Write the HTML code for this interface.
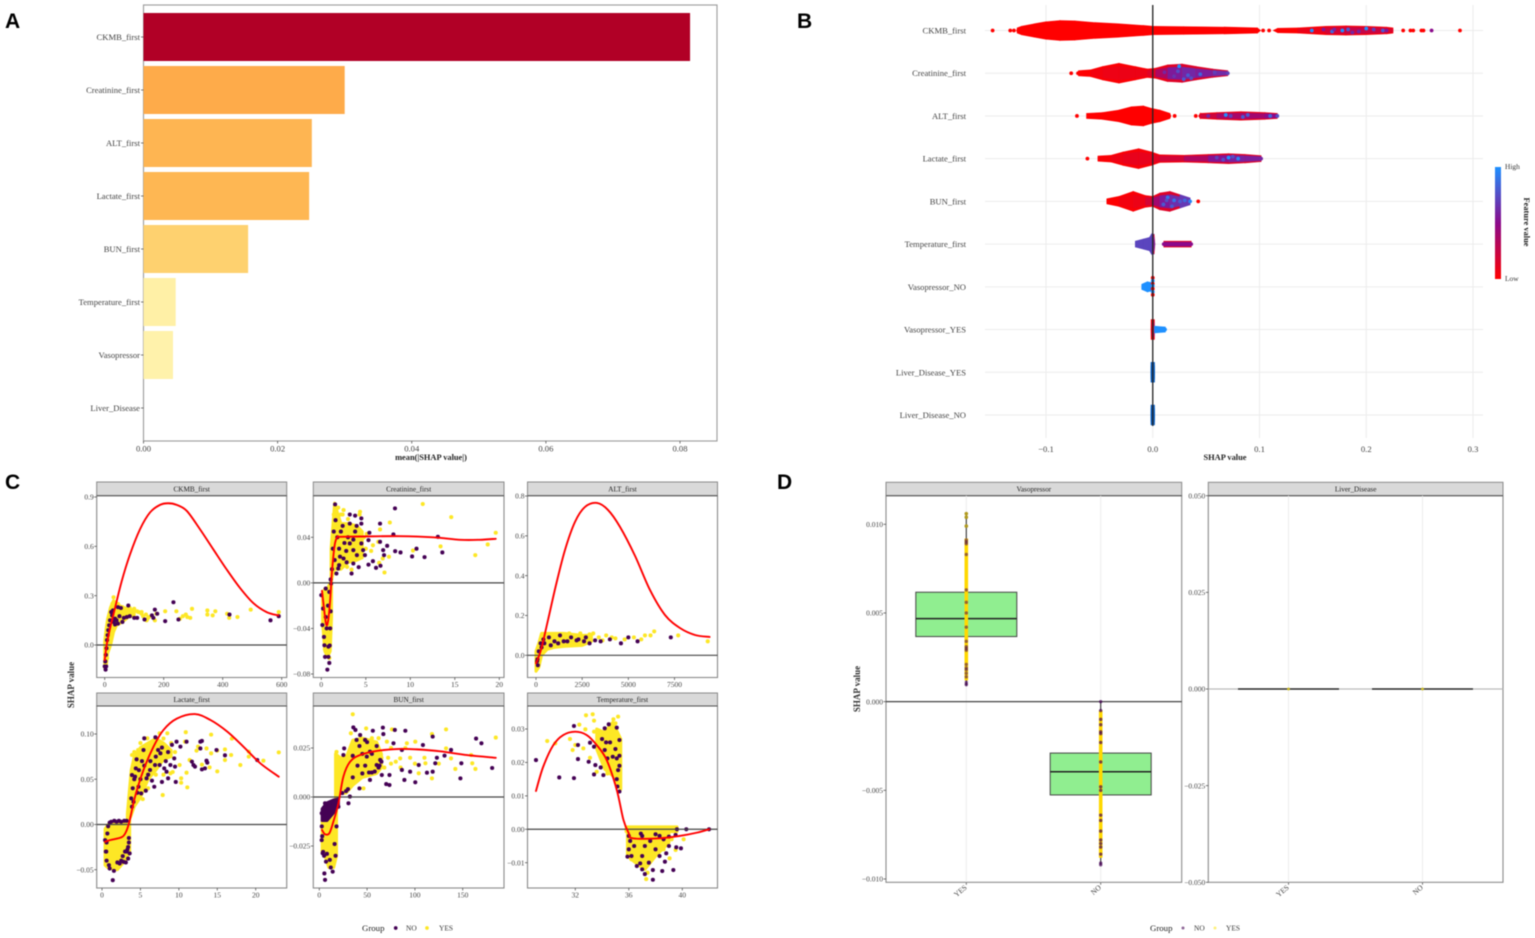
<!DOCTYPE html>
<html lang="en">
<head>
<meta charset="utf-8">
<title>SHAP feature analysis panels</title>
<style>
html,body{margin:0;padding:0;background:#fff;}
svg{display:block;filter:blur(.45px);}
text{font-family:"Liberation Serif",serif;}
.letter{font-family:"Liberation Sans",sans-serif;font-weight:700;font-size:21px;fill:#000;}
.t86{font-size:8.6px;fill:#444;}
.t75{font-size:7.5px;fill:#444;}
.strip{font-size:7.2px;fill:#222;}
.title{font-size:8.4px;font-weight:700;fill:#222;}
.ytitle{font-size:9px;font-weight:700;fill:#333;}
.leg{font-size:7.4px;fill:#333;}
.legt{font-size:8.8px;fill:#222;}
</style>
</head>
<body>
<svg id="fig" width="1535" height="938" viewBox="0 0 1535 938" xmlns="http://www.w3.org/2000/svg">
  <defs>
    <linearGradient id="featureGrad" x1="0" y1="1" x2="0" y2="0">
      <stop offset="0" stop-color="#ff0000"/>
      <stop offset="0.5" stop-color="#8b0a8b"/>
      <stop offset="1" stop-color="#1e90ff"/>
    </linearGradient>
  </defs>
  <rect width="1535" height="938" fill="#fff"/>
  <text class="letter" x="5" y="28">A</text>
  <text class="letter" x="797" y="28">B</text>
  <text class="letter" x="5" y="489">C</text>
  <text class="letter" x="777" y="489">D</text>
  <g id="panelA"></g>
  <g id="panelB"></g>
  <g id="panelC"></g>
  <g id="panelD"></g>
</svg>
<script>
/* ---------- Panel A data ---------- */
const importanceFeatures = ["CKMB_first","Creatinine_first","ALT_first","Lactate_first","BUN_first","Temperature_first","Vasopressor","Liver_Disease"];
const importanceValues = [0.0815,0.0300,0.0251,0.0247,0.0156,0.0048,0.0044,0];
const importanceTicks = [0,0.02,0.04,0.06,0.08];

/* ---------- Panel B data ---------- */
const swarmFeatures = ["CKMB_first","Creatinine_first","ALT_first","Lactate_first","BUN_first","Temperature_first","Vasopressor_NO","Vasopressor_YES","Liver_Disease_YES","Liver_Disease_NO"];
const swarmTicks = [-0.1,0,0.1,0.2,0.3];

const ckmbSwarmShap = [-0.127,-0.123,-0.111,-0.1,-0.087,-0.073,-0.054,-0.032,-0.009,0,0.029,0.067,0.098,0.101,0.113,0.117,0.136,0.162,0.181,0.2,0.219,0.225];
const ckmbSwarmDensity = [1,3,6,8.5,10,9.5,7.5,6,4,3,2.5,2,1,0,0,0.5,1,3,3.5,3,2,1];
const ckmbSwarmTone = [0,0,0,0,0,0,0,0,0,0,0,0,0,0,0,0,0.02,0.15,0.25,0.25,0.2,0.1];
const ckmbDots = [[-0.15,0,0],[-0.1335,0,0],[-0.13,0,0],[-0.126,0,0],[0.1034,0,0],[0.109,0,0],[0.128,0,0],[0.2346,0,0],[0.2414,0,0],[0.244,0,0],[0.2517,0,0],[0.2536,0,0],[0.2612,0,0.5],[0.2878,0,0],[0.149,0,1],[0.168,1,0.85],[0.1776,0,1],[0.183,-1,0.8],[0.2,-2,1],[0.2156,0,0.8],[0.16,-1,0.55],[0.187,2,0.6],[0.219,0,0.55],[0.17,-1,0.6],[0.193,1,0.6],[0.207,-1,0.7]];

const creatSwarmShap = [-0.0696,-0.058,-0.047,-0.0316,-0.0163,-0.005,0.0027,0.014,0.0274,0.0407,0.056,0.0703];
const creatSwarmDensity = [1,2,6,10,6,3,4,8,9,6,3,1];
const creatSwarmTone = [0,0.03,0.07,0.08,0.08,0.08,0.2,0.5,0.62,0.6,0.55,0.7];
const creatDots = [[-0.0764,0,0],[-0.07,0,0],[0.0247,-7,1],[0.0236,-2,0.75],[0.033,2,0.8],[0.0445,1,0.85],[0.029,6,0.8],[0.011,-1,0.6],[0.0703,0,0.7],[0.058,-1,0.7],[0.036,5,0.75],[0.02,3,0.65]];

const altSwarmShap = [-0.062,-0.047,-0.0316,-0.02,-0.0087,-0.001,0.0065,0.016,0.017,0.043,0.0445,0.06,0.0825,0.105,0.1167];
const altSwarmDensity = [1,2,5,9,10,7,5,1,0,0,1,2,3,2,1];
const altSwarmTone = [0,0,0,0,0,0,0,0,0,0,0.1,0.35,0.4,0.4,0.6];
const altDots = [[-0.071,0,0],[0.0205,0,0],[0.0403,0,0],[0.0684,-1,1],[0.0844,1,0.8],[0.089,-1,0.8],[0.1167,0,0.75],[0.052,0,0.6],[0.073,0,0.7],[0.11,0,0.85]];

const lactSwarmShap = [-0.0513,-0.039,-0.0278,-0.0133,-0.0011,0.0065,0.0293,0.052,0.071,0.0863,0.1015];
const lactSwarmDensity = [1,2,6,10,6,2.5,2,3,4,3,1.5];
const lactSwarmTone = [0,0.05,0.1,0.1,0.1,0.15,0.25,0.45,0.62,0.55,0.6];
const lactDots = [[-0.0612,0,0],[0.071,-1,1],[0.08,0,0.95],[0.1015,0,0.6],[0.06,-1,0.7],[0.066,1,0.75],[0.075,-2,0.75]];

const bunSwarmShap = [-0.043,-0.0316,-0.0183,-0.0068,0,0.0065,0.016,0.0255,0.035];
const bunSwarmDensity = [1,4,10,5,4,8,10,6,2];
const bunSwarmTone = [0,0.03,0.08,0.08,0.3,0.5,0.62,0.65,0.7];
const bunDots = [[0.0426,0,0],[0.014,-4,0.9],[0.01,3,0.8],[0.018,5,0.8],[0.035,0,0.95],[0.0255,0,0.8],[0.02,-1,0.9],[0.03,-1,0.85],[0.013,-1,0.75]];

const tempSwarmShap = [-0.0163,-0.0087,-0.003,-0.0012,0.0012,0.002,0.0103,0.0104,0.036,0.0361];
const tempSwarmDensity = [1.5,4,6,10,10,0,0,1.5,1.5,0];
const tempSwarmTone = [0.72,0.72,0.72,0.72,0.72,0.5,0.5,0.5,0.5,0.5];
const tempDots = [[0.0103,0,0.5],[0.036,0,0.5]];

const vasoNoSwarmShap = [-0.0103,-0.005,-0.0011,0];
const vasoNoSwarmDensity = [1,4,3,0];
const vasoNoSwarmTone = [1,1,1,1];
const vasoNoDots = [[0,-9,0],[0,-6,1],[0,-3,0],[0,-1,1],[0,2,0],[0,5,1],[0,8,0]];

const vasoYesSwarmShap = [-0.0015,-0.0014,0.0014,0.0015,0.0118];
const vasoYesSwarmDensity = [0,10,10,2,1];
const vasoYesSwarmTone = [0.1,0.1,0.1,1,1];
const vasoYesDots = [[0.004,-1,1],[0.009,0,1],[0.0115,0,1]];

const liverYesSwarmShap = [-0.0017,-0.0015,0.0015,0.0017];
const liverYesSwarmDensity = [0,10,10,0];
const liverYesSwarmTone = [1.25,1.25,1.25,1.25];
const liverNoSwarmShap = [-0.0017,-0.0015,0.0015,0.0017];
const liverNoSwarmDensity = [0,10,10,0];
const liverNoSwarmTone = [1.25,1.25,1.25,1.25];

/* ---------- Panel C data ---------- */
const ckmbXTicks = [0,200,400,600];
const ckmbYTicks = [0,0.3,0.6,0.9];
const ckmbCurve = [[0,-0.092],[6.7,0],[18,0.10],[35,0.225],[57.6,0.388],[85.8,0.551],[119.7,0.704],[153.6,0.806],[187.5,0.852],[215.7,0.862],[244,0.852],[278,0.816],[323,0.704],[368,0.582],[413.6,0.459],[458.6,0.347],[503.7,0.255],[549,0.2],[588.5,0.18]];
const ckmbDense = [[0,-0.14,0.02],[5,-0.13,0.1],[10,-0.05,0.16],[20,0,0.23],[30,0.08,0.27],[40,0.12,0.25],[60,0.14,0.23],[80,0.17,0.22],[100,0.18,0.21]];
const ckmbNoPts = [[35,0.16],[45,0.23],[55,0.225],[80,0.24],[75,0.17],[85,0.175],[100,0.165],[110,0.165],[135,0.155],[160,0.18],[165,0.165],[170,0.215],[178,0.19],[205,0.145],[233,0.26],[250,0.155],[423,0.185],[562,0.15],[590,0.175],[3,-0.15],[5,-0.13],[0,-0.13],[10,0.06],[15,0.12],[22,0.2],[35,0.125],[45,0.13],[60,0.14],[2,-0.1],[4,-0.06],[6,-0.02],[8,0.03],[12,0.09],[18,0.15],[25,0.18],[30,0.14],[40,0.15],[50,0.175],[65,0.165],[28,0.21]];
const ckmbYesPts = [[30,0.29],[70,0.2],[90,0.21],[100,0.22],[115,0.2],[125,0.2],[140,0.185],[142,0.15],[145,0.16],[170,0.15],[175,0.19],[205,0.205],[243,0.205],[255,0.16],[265,0.175],[275,0.185],[280,0.17],[290,0.165],[296,0.22],[348,0.21],[348,0.185],[366,0.18],[375,0.205],[415,0.19],[422,0.165],[450,0.17],[495,0.215],[590,0.2],[3,-0.12],[8,-0.08],[12,0.02],[18,0.1],[26,0.25],[35,0.26],[45,0.25],[60,0.23],[85,0.225],[110,0.205],[125,0.19],[130,0.175],[150,0.17]];

const creatXTicks = [0,5,10,15,20];
const creatYTicks = [-0.08,-0.04,0,0.04];
const creatCurve = [[0.08,-0.007],[0.22,-0.0167],[0.53,-0.0358],[0.75,-0.034],[0.98,-0.0167],[1.2,0.0097],[1.5,0.033],[1.8,0.0404],[2.1,0.0404],[4.35,0.0407],[8.84,0.041],[12.6,0.04],[15.6,0.0378],[17.8,0.0378],[19.6,0.0387]];
const creatDense = [[1.1,0,0.03],[1.3,0.008,0.05],[1.5,0.012,0.07],[1.8,0.012,0.062],[2.2,0.012,0.052],[3,0.018,0.052],[4,0.02,0.05],[4.6,0.022,0.045]];
const creatDenseLow = [[0.15,-0.035,-0.01],[0.4,-0.06,-0.005],[0.7,-0.065,-0.005],[1,-0.06,0],[1.15,-0.03,0]];
const creatNoPts = [[8.28,0.0654],[13.1,0.0404],[8.1,0.0425],[6.6,0.052],[6.6,0.036],[7.4,0.0325],[6.95,0.0287],[7.05,0.0243],[6.65,0.015],[6.15,0.0132],[8.3,0.0278],[8.9,0.0267],[10.2,0.0232],[10.7,0.03],[11.6,0.0226],[13.6,0.0267],[3.4,0.0082],[1.7,0.0082],[1.9,0.0126],[3.2,0.06],[3.8,0.059],[4.5,0.0566],[4.5,0.052],[3.97,0.05],[3.2,0.052],[3.8,0.045],[5.4,0.044],[5.3,0.0375],[3.2,0.0346],[4.5,0.0346],[3.6,0.0287],[4.7,0.0287],[4,0.0243],[4.9,0.0243],[2.85,0.018],[3.6,0.017],[4.2,0.0138],[5.3,0.016],[5.8,0.019],[2.5,0.0214],[2,0.0155],[0.68,-0.0762],[0.9,-0.0703],[0.42,-0.065],[0.8,-0.065],[0.35,-0.0548],[0.8,-0.056],[0.3,-0.0475],[0.12,-0.037],[0.2,-0.0226],[0,-0.0108],[0.5,-0.005],[0.9,-0.008],[1.1,-0.0006],[1.55,0.0689],[2.1,0.023],[1.3,0.03],[1.4,0.045],[1.6,0.055],[1.8,0.04],[1.5,0.02],[2,0.03],[2.2,0.045],[2.6,0.035],[2.8,0.028],[3,0.04],[2.4,0.05],[3.6,0.038],[1.2,0.012],[1.05,0.003],[0.6,-0.04],[0.5,-0.03],[0.75,-0.02],[1,-0.04],[0.95,-0.055],[1.05,-0.025]];
const creatYesPts = [[11.4,0.0692],[14.6,0.0577],[19.6,0.044],[18.7,0.0337],[17.3,0.0243],[13.4,0.032],[10.3,0.0284],[7.7,0.053],[6.6,0.0469],[6.4,0.036],[7.1,0.0091],[6.5,0.0176],[7.6,0.0229],[6.9,0.0214],[3.4,0.0117],[2.5,0.0639],[2.4,0.06],[4.35,0.0624],[5.8,0.033],[5.1,0.043],[4.3,0.06],[3.2,0.045],[5.6,0.028],[2.9,0.014],[1.6,0.062],[1.4,0.06],[1.9,0.066],[2.2,0.06],[3,0.056],[3.6,0.05],[4.2,0.047],[4.8,0.04],[3.2,0.025],[2.6,0.018],[4.4,0.024],[5,0.03],[3.8,0.02],[0.3,-0.03],[0.9,-0.066],[0.4,-0.058]];

const altXTicks = [0,2500,5000,7500];
const altYTicks = [0,0.2,0.4,0.6,0.8];
const altCurve = [[0,-0.04],[270,0.027],[650,0.177],[1083,0.353],[1570,0.529],[2112,0.67],[2653,0.745],[3303,0.765],[3898,0.73],[4548,0.645],[5360,0.5],[6172,0.328],[6984,0.2025],[7796,0.137],[8609,0.102],[9400,0.092]];
const altDense = [[0,-0.08,0.02],[150,-0.06,0.06],[300,0,0.11],[600,0.03,0.11],[1000,0.04,0.11],[1500,0.045,0.11],[2500,0.05,0.1],[3000,0.07,0.1]];
const altNoPts = [[4000,0.08],[4600,0.06],[5000,0.09],[5500,0.07],[7300,0.09],[1200,0.06],[1700,0.07],[2200,0.075],[2700,0.09],[3200,0.075],[300,0.04],[100,-0.05],[60,-0.03],[800,0.05],[3500,0.07],[2900,0.06],[400,0.08],[700,0.09],[1000,0.07],[1300,0.1],[1500,0.07],[1900,0.09],[2300,0.08],[2600,0.07],[150,0.02],[80,-0.02],[250,0.06],[450,0.06]];
const altYesPts = [[6400,0.12],[5900,0.1],[6200,0.1],[7700,0.1],[9300,0.07],[3400,0.09],[3800,0.1],[4300,0.085],[4800,0.08],[5300,0.09],[5700,0.08],[3100,0.11],[1800,0.11],[2400,0.11],[2900,0.105],[3600,0.075],[4100,0.09]];

const lactXTicks = [0,5,10,15,20];
const lactYTicks = [-0.05,0,0.05,0.1];
const lactCurve = [[0.39,-0.0192],[1.04,-0.0173],[2.57,-0.014],[3.13,-0.008],[3.56,0.003],[4.3,0.0306],[5.39,0.06],[6.7,0.086],[8,0.1045],[9.73,0.117],[12.1,0.122],[14.1,0.1155],[16.3,0.1026],[18.4,0.086],[20.6,0.0676],[23,0.0528]];
const lactDense = [[0.4,-0.045,-0.005],[0.8,-0.048,0],[2,-0.05,0.003],[3,-0.04,0.003],[3.6,-0.03,0.005]];
const lactDenseHigh = [[3.3,0,0.012],[3.8,0.01,0.06],[4.2,0.02,0.075],[5,0.03,0.085],[6,0.05,0.09],[7,0.06,0.095],[8,0.072,0.09],[9,0.075,0.082]];
const lactNoPts = [[5.5,0.0952],[6.95,0.0963],[5.4,0.0823],[7.3,0.0823],[7.6,0.0786],[8.6,0.08],[9.7,0.0915],[11,0.0915],[10.2,0.086],[9.1,0.088],[9.4,0.073],[8.9,0.0657],[9.5,0.0639],[8.4,0.0583],[9.6,0.047],[8.6,0.051],[7.8,0.047],[6.8,0.0417],[6.5,0.0484],[5.7,0.0373],[5.1,0.0343],[4.75,0.0417],[5.8,0.051],[6.25,0.0602],[6.9,0.0657],[7.5,0.0657],[8.1,0.062],[12.8,0.0915],[13,0.0923],[12.8,0.084],[13.6,0.0705],[13.7,0.0683],[13.4,0.062],[13,0.0609],[12.1,0.0639],[11.9,0.0657],[11.7,0.0694],[14.9,0.0823],[16,0.0764],[20.2,0.0712],[1.4,-0.0616],[1.55,-0.0513],[1,-0.0487],[2.3,-0.0432],[2.8,-0.0413],[3.4,-0.0377],[3.6,-0.032],[0.4,-0.0173],[3.9,0.0196],[3.8,0.0288],[4.3,0.0528],[3.9,0.0546],[1,0.002],[1.6,0.004],[2.2,0.004],[2.9,0.004],[3.5,-0.02],[3.2,-0.03],[0.5,-0.03],[4.8,0.06],[5.2,0.07],[0.6,-0.02],[0.55,-0.03],[0.6,-0.04],[0.9,-0.045],[2,-0.042],[2.5,-0.04],[2.7,-0.035],[3,-0.03],[3.3,-0.028],[3.1,-0.042],[3.4,-0.025],[3.5,-0.015],[1.2,0.003],[1.9,0.003],[2.5,0.003],[3.2,0.004],[0.8,-0.002],[0.7,-0.01],[4,0.04],[4.2,0.05],[4.4,0.062],[4.6,0.035],[5,0.05],[5.5,0.065],[6,0.055],[6.3,0.07],[7,0.075],[7.8,0.085],[8.3,0.07],[4.1,0.025],[4.5,0.072]];
const lactYesPts = [[10.9,0.102],[14.2,0.0993],[16.9,0.0949],[10.8,0.0915],[12.5,0.086],[13.6,0.084],[12.3,0.0816],[14.2,0.0786],[15,0.0816],[16,0.083],[16,0.0712],[16.8,0.0768],[19.1,0.0805],[19.1,0.075],[18,0.0657],[21,0.0705],[23,0.0797],[15,0.0587],[14,0.0631],[13,0.0661],[11.4,0.0712],[11,0.0572],[11.1,0.041],[10.3,0.051],[10.3,0.0461],[7.9,0.0325],[5.3,0.028],[3.9,0.0768],[4.7,0.0823],[5.9,0.0952],[7.5,0.1008],[8.5,0.1008],[10.1,0.0657],[8.9,0.0565],[9.5,0.08],[9,0.09],[8,0.095],[6.5,0.09],[5,0.09],[4.2,0.08],[6,0.04],[7,0.055],[8,0.055],[9.2,0.058]];

const bunXTicks = [0,50,100,150];
const bunYTicks = [-0.025,0,0.025];
const bunCurve = [[2.8,-0.0168],[6,-0.019],[10.5,-0.0185],[14.7,-0.0126],[20,-0.0032],[25.2,0.0104],[32.2,0.018],[42.7,0.0214],[60,0.0235],[84.6,0.0245],[102,0.0243],[126.6,0.0233],[154.6,0.0214],[184.6,0.02]];
const bunDense = [[3,-0.028,-0.012],[6,-0.03,-0.012],[10,-0.036,-0.012],[15,-0.036,-0.008],[18,-0.03,0]];
const bunDenseHigh = [[17,-0.002,0.022],[22,0.002,0.02],[28,0.002,0.02],[35,0.006,0.029],[45,0.01,0.03],[60,0.012,0.028],[65,0.015,0.022]];
const bunDenseNo = [[3,-0.012,-0.006],[8,-0.012,-0.003],[15,-0.008,-0.0015],[20,-0.004,-0.001]];
const bunNoPts = [[164,0.0298],[169.6,0.0274],[147.6,0.0095],[148.6,0.0172],[180.8,0.0148],[137.8,0.024],[131,0.0211],[123,0.02],[121.3,0.0172],[118.6,0.0129],[118.6,0.0308],[108.4,0.0265],[112.6,0.0124],[100.4,0.0075],[89,0.0087],[90,0.0338],[79,0.0342],[66.5,0.0354],[67,0.0321],[56,0.0338],[35.6,0.0355],[37.8,0.0342],[65.4,0.0112],[73.4,0.0112],[70,0.0066],[73.4,0.0061],[42,0.0044],[53,0.0087],[86.4,0.0138],[95,0.0129],[104,0.0163],[77.6,0.0274],[86.4,0.024],[60,0.0163],[63.7,0.0189],[49.7,0.0206],[53,0.0231],[42.7,0.0316],[39,0.0291],[47.9,0.0291],[26,0.0248],[25.2,0.0214],[32,0.0002],[30.5,-0.0032],[6,-0.0423],[5.3,-0.039],[14,-0.0381],[7,-0.033],[11,-0.0321],[3.5,-0.0287],[2.5,-0.022],[6,-0.0032],[11,-0.0041],[14.7,-0.0032],[4.5,-0.0075],[2.5,-0.0083],[45,0.012],[52,0.0125],[58,0.013],[62,0.015],[65,0.018],[63,0.016],[55,0.0125],[28,0.003],[3,-0.02],[2.6,-0.015],[4,-0.028],[5,-0.03],[8,-0.029],[12,-0.036],[17,-0.03],[16,-0.024],[18,-0.015],[20,-0.005],[24,0.002],[30,0.004],[35,0.01],[40,0.016],[45,0.022],[50,0.028],[55,0.022],[60,0.026],[42,0.026],[35,0.021],[48,0.016]];
const bunYesPts = [[35,0.0422],[49,0.035],[76,0.0345],[117.8,0.0321],[132.6,0.0345],[184.6,0.0303],[132.6,0.0248],[137.8,0.0197],[142.3,0.0143],[163.3,0.0143],[160,0.0172],[158.8,0.0214],[117.8,0.0095],[100.4,0.0282],[46.2,0.0044],[18,0.023],[33,0.0325],[91.6,0.0274],[70.7,0.0282],[84.6,0.0197],[104,0.0121],[111,0.0172],[72,0.02],[80,0.018],[95,0.02],[68,0.015],[55,0.03],[65,0.02],[75,0.017],[85,0.015],[90,0.025],[100,0.017],[110,0.02],[125,0.017],[75,0.025],[62,0.03]];

const tempXTicks = [32,36,40];
const tempYTicks = [-0.01,0,0.01,0.02,0.03];
const tempCurve = [[29.06,0.01146],[29.6,0.0187],[30.36,0.0252],[31.1,0.0282],[32,0.0292],[32.85,0.0282],[33.6,0.0252],[34.35,0.0207],[35.1,0.0118],[35.6,0.0028],[36,-0.0012],[36.3,-0.0027],[38.3,-0.0027],[39.8,-0.002],[41.1,-0.001],[42,0]];
const tempDense = [[33.6,0.024,0.03],[34.2,0.018,0.029],[34.8,0.016,0.032],[35.4,0.012,0.027]];
const tempDenseLow = [[35.9,-0.008,-0.001],[36.5,-0.01,-0.001],[37.2,-0.012,-0.001],[38,-0.008,-0.001],[39,-0.004,-0.001]];
const tempDenseZero = [[35.8,-0.0007,0.0007],[39.6,-0.0007,0.0007]];
const tempNoPts = [[29.06,0.0207],[30.8,0.0155],[31.9,0.0153],[31.9,0.0309],[32.2,0.021],[32.2,0.0252],[33,0.0202],[33.4,0.0164],[33.5,0.0192],[33.9,0.0185],[34.1,0.0162],[34.2,0.0302],[34.5,0.0314],[35.1,0.0304],[33.1,0.0259],[33.4,0.0247],[34.2,0.0237],[34.4,0.0212],[34.8,0.0217],[35.1,0.0212],[35.3,0.0267],[35.2,0.0177],[35.15,0.0128],[35.3,0.0113],[39.6,0],[40.3,0],[42,0],[37.8,-0.0151],[38.5,-0.0125],[39.33,-0.0122],[39.9,-0.0057],[39.55,-0.0054],[37.2,-0.0134],[36.85,-0.0102],[35.9,-0.0082],[38.7,-0.0097],[37.8,-0.0122],[38.8,-0.0072],[39,-0.0022],[39.5,-0.0017],[38,-0.0015],[38.3,-0.002],[38.6,-0.003],[36.4,-0.005],[37,-0.008],[37.6,-0.0035],[36.1,-0.0035],[36.9,-0.0013],[34,0.027],[34.6,0.026],[35,0.024],[35.3,0.022],[35.3,0.019],[35.1,0.015],[34.3,0.026],[36,-0.006],[36.2,-0.008],[36.6,-0.011],[37,-0.012],[37.5,-0.01],[37.2,-0.005],[38,-0.006],[38.3,-0.008],[36,-0.002],[37,-0.002],[39,-0.005]];
const tempYesPts = [[29.9,0.0264],[30.5,0.0257],[31.6,0.027],[31.8,0.0237],[32,0.0252],[32.3,0.0313],[32.8,0.0341],[33.3,0.0344],[33.4,0.0325],[32.75,0.0299],[32.6,0.0242],[33.1,0.0214],[33.6,0.0172],[34.4,0.0167],[34.85,0.0329],[35.2,0.0337],[35,0.0317],[35.1,0.0287],[33.4,0.0292],[37.3,-0.0149],[39.05,-0.0087],[39.5,-0.0062],[40.1,-0.003],[37.8,-0.008],[38.2,-0.005],[38.6,-0.006],[37.4,-0.013],[36.2,-0.009],[39.2,-0.003]];

/* ---------- Panel D data ---------- */
const boxCategories = ["YES","NO"];
const vasoYTicks = [-0.01,-0.005,0,0.005,0.01];
const liverYTicks = [-0.05,-0.025,0,0.025,0.05];
const vasoQ1 = [0.00367,-0.00526];
const vasoMedian = [0.00468,-0.00395];
const vasoQ3 = [0.00617,-0.0029];
const vasoMin = [0.0009,-0.0092];
const vasoMax = [0.0106,0];
const liverQ1 = [0,0];
const liverMedian = [0,0];
const liverQ3 = [0,0];
const vasoDenseYesLow = [0.0012,-0.0088];
const vasoDenseYesHigh = [0.0092,-0.0005];
const vasoYesGroupNo = [0.00095,0.001,0.0011,0.0014,0.0016,0.0018,0.0019,0.0021,0.0029,0.003,0.0031,0.0034,0.0042,0.005,0.0056,0.0063,0.0083,0.0089,0.009,0.0091];
const vasoYesGroupMixed = [0.0099,0.0104,0.0106];
const vasoNoGroupNo = [0,-0.0005,-0.001,-0.0013,-0.0017,-0.0018,-0.0023,-0.0034,-0.0048,-0.005,-0.0064,-0.0067,-0.0073,-0.0078,-0.008,-0.0082,-0.0086,-0.0091,-0.0092];
const legendGroups = ["NO","YES"];

/* ---------- helpers ---------- */
const NS = "http://www.w3.org/2000/svg";
const PURPLE = "#440154", YELLOW = "#fde725";
function make(tag, parent, geom) {
  const el = document.createElementNS(NS, tag);
  for (const k in geom) el.setAttribute(k, geom[k]);
  
  parent.appendChild(el);
  return el;
}
function linear(d0, d1, r0, r1) {
  return v => r0 + (v - d0) * (r1 - r0) / (d1 - d0);
}
function label(parent, x, y, str, cls, anchor, name, rotate) {
  const el = make('text', parent, {x: x, y: y, class: cls, 'text-anchor': anchor});
  
  if (rotate !== undefined) el.setAttribute('transform', 'rotate(' + rotate + ' ' + x + ' ' + y + ')');
  el.textContent = str;
  return el;
}
function tickMark(parent, x1, y1, x2, y2) {
  const el = make('line', parent, {x1: x1, y1: y1, x2: x2, y2: y2, stroke: '#555', 'stroke-width': 0.8});
  
}
function fmt(v, dec) {
  const s = Math.abs(v).toFixed(dec);
  return v < 0 ? "\u2212" + s : s;
}
function hexMix(a, b, t) {
  const pa = [1,3,5].map(i => parseInt(a.substr(i,2),16));
  const pb = [1,3,5].map(i => parseInt(b.substr(i,2),16));
  return 'rgb(' + pa.map((c,i) => Math.round(c + (pb[i]-c)*t)).join(',') + ')';
}
function ramp(stops, t) {
  for (let i = 1; i < stops.length; i++) {
    if (t <= stops[i][0]) {
      return hexMix(stops[i-1][1], stops[i][1], (t - stops[i-1][0]) / (stops[i][0] - stops[i-1][0]));
    }
  }
  return stops[stops.length-1][1];
}
function toneColor(t) {
  return ramp([[0,'#ff0000'],[0.5,'#8b0a8b'],[1,'#1e90ff'],[1.25,'#0b5fc0']], t);
}
function barColor(t) {
  return ramp([[0,'#ffffe0'],[0.06,'#fff0a5'],[0.19,'#fed16f'],[0.31,'#feb551'],[0.37,'#feab4a'],[1,'#b10026']], t);
}
function smoothPath(pts) {
  let d = 'M' + pts[0][0] + ',' + pts[0][1];
  for (let i = 0; i < pts.length-1; i++) {
    const p0 = pts[Math.max(i-1,0)], p1 = pts[i], p2 = pts[i+1], p3 = pts[Math.min(i+2,pts.length-1)];
    const c1x = p1[0] + (p2[0]-p0[0])/6, c1y = p1[1] + (p2[1]-p0[1])/6;
    const c2x = p2[0] - (p3[0]-p1[0])/6, c2y = p2[1] - (p3[1]-p1[1])/6;
    d += 'C' + c1x + ',' + c1y + ' ' + c2x + ',' + c2y + ' ' + p2[0] + ',' + p2[1];
  }
  return d;
}

/* ---------- Panel A ---------- */
(function () {
  const g = document.getElementById('panelA');
  const left = 143.5, right = 717, top = 5, bottom = 441;
  const x = linear(0, 0.08, left, 680);
  const bandTop = 37, bandStep = 53;
  const frame = make('rect', g, {x: left, y: top, width: right-left, height: bottom-top, fill: '#fff', stroke: '#9a9a9a', 'stroke-width': 1.1});
  
  importanceFeatures.forEach((name, i) => {
    const cy = bandTop + i * bandStep;
    const bar = make('rect', g, {x: left, y: cy-24, width: x(importanceValues[i])-left, height: 48, fill: barColor(importanceValues[i]/importanceValues[0])});
    
    tickMark(g, left-2.5, cy, left, cy);
    label(g, left-3.5, cy+3, name, 't86', 'end', 'y-tick-label');
  });
  importanceTicks.forEach(v => {
    tickMark(g, x(v), bottom, x(v), bottom+2.5);
    label(g, x(v), bottom+10.5, v.toFixed(2), 't86', 'middle', 'x-tick-label');
  });
  label(g, 431, 460, 'mean(|SHAP value|)', 'title', 'middle', 'x-axis-title');
})();

/* ---------- Panel B ---------- */
(function () {
  const g = document.getElementById('panelB');
  const x = linear(-0.1, 0.3, 1046, 1473);
  const rowTop = 30.5, rowStep = 42.72;
  const half = d => d > 0 ? d * 0.82 + 1.7 : 0;
  swarmTicks.forEach(v => {
    const grid = make('line', g, {x1: x(v), y1: 5, x2: x(v), y2: 438, stroke: '#ececec', 'stroke-width': 1});
    
    label(g, x(v), 452, fmt(v, 1), 't86', 'middle', 'x-tick-label');
  });
  const rows = [
    [ckmbSwarmShap, ckmbSwarmDensity, ckmbSwarmTone, ckmbDots],
    [creatSwarmShap, creatSwarmDensity, creatSwarmTone, creatDots],
    [altSwarmShap, altSwarmDensity, altSwarmTone, altDots],
    [lactSwarmShap, lactSwarmDensity, lactSwarmTone, lactDots],
    [bunSwarmShap, bunSwarmDensity, bunSwarmTone, bunDots],
    [tempSwarmShap, tempSwarmDensity, tempSwarmTone, tempDots],
    [vasoNoSwarmShap, vasoNoSwarmDensity, vasoNoSwarmTone, vasoNoDots],
    [vasoYesSwarmShap, vasoYesSwarmDensity, vasoYesSwarmTone, vasoYesDots],
    [liverYesSwarmShap, liverYesSwarmDensity, liverYesSwarmTone, []],
    [liverNoSwarmShap, liverNoSwarmDensity, liverNoSwarmTone, []]
  ];
  swarmFeatures.forEach((name, r) => {
    const cy = rowTop + r * rowStep;
    const grid = make('line', g, {x1: 985, y1: cy, x2: 1483, y2: cy, stroke: '#ececec', 'stroke-width': 1});
    
    label(g, 966, cy+3, name, 't86', 'end', 'feature-label');
  });
  rows.forEach((row, r) => {
    const cy = rowTop + r * rowStep;
    const [shap, dens, tone, dots] = row;
    for (let i = 0; i < shap.length-1; i++) {
      if (dens[i] === 0 && dens[i+1] === 0) continue;
      const a = x(shap[i]), b = x(shap[i+1]);
      const t = (tone[i]+tone[i+1])/2;
      const h0 = half(dens[i]), h1 = half(dens[i+1]);
      const rim = toneColor(t < 0.65 ? t * 0.25 : t);
      const quad = make('polygon', g, {
        points: a + ',' + (cy-h0) + ' ' + b + ',' + (cy-h1) + ' ' + b + ',' + (cy+h1) + ' ' + a + ',' + (cy+h0),
        fill: rim, stroke: rim, 'stroke-width': 0.7
      });
      
      if (t > 0.02) {
        const col = toneColor(t);
        const core = make('polygon', g, {
          points: a + ',' + (cy-h0*0.68) + ' ' + b + ',' + (cy-h1*0.68) + ' ' + b + ',' + (cy+h1*0.68) + ' ' + a + ',' + (cy+h0*0.68),
          fill: col, stroke: col, 'stroke-width': 0.5
        });
        
      }
    }
    dots.forEach(d => {
      const dot = make('circle', g, {cx: x(d[0]), cy: cy+d[1], r: 1.9, fill: toneColor(d[2])});
      
    });
  });
  const zero = make('line', g, {x1: x(0), y1: 5, x2: x(0), y2: 426, stroke: '#222', 'stroke-width': 1.3});
  
  label(g, 1225, 460, 'SHAP value', 'title', 'middle', 'x-axis-title');
  const bar = make('rect', g, {x: 1495, y: 167, width: 6, height: 112, fill: 'url(#featureGrad)'});
  
  label(g, 1505, 169, 'High', 'leg', 'start', 'colorbar-high-label');
  label(g, 1505, 281, 'Low', 'leg', 'start', 'colorbar-low-label');
  label(g, 1524, 222, 'Feature value', 'title', 'middle', 'colorbar-title', 90);
})();

/* ---------- Facet drawing (C and D) ---------- */
function facetFrame(parent, o) {
  const g = make('g', parent, {});
  
  const strip = make('rect', g, {x: o.left, y: o.stripTop, width: o.right-o.left, height: o.top-o.stripTop, fill: '#d9d9d9', stroke: '#8a8a8a', 'stroke-width': 1});
  
  label(g, (o.left+o.right)/2, (o.top+o.stripTop)/2+2.6, o.title, 'strip', 'middle', 'facet-title');
  const frame = make('rect', g, {x: o.left, y: o.top, width: o.right-o.left, height: o.bottom-o.top, fill: '#fff', stroke: '#8a8a8a', 'stroke-width': 1.1});
  
  const topRule = make('line', g, {x1: o.left, y1: o.top, x2: o.right, y2: o.top, stroke: '#555', 'stroke-width': 1});
  
  return g;
}
function yAxis(g, o, y, ticks, dec) {
  ticks.forEach(v => {
    tickMark(g, o.left-2.5, y(v), o.left, y(v));
    label(g, o.left-3, y(v)+2.6, fmt(v, dec), 't75', 'end', 'y-tick-label');
  });
}
function baseline(g, o, y) {
  const el = make('line', g, {x1: o.left, y1: y(0), x2: o.right, y2: y(0), stroke: '#444', 'stroke-width': 1.2});
  
}
function areaBand(g, rows, x, y, col) {
  const upper = rows.map(r => x(r[0]) + ',' + y(r[2]));
  const lower = rows.slice().reverse().map(r => x(r[0]) + ',' + y(r[1]));
  const el = make('polygon', g, {points: upper.concat(lower).join(' '), fill: col, stroke: col, 'stroke-width': 3, 'stroke-linejoin': 'round'});
  
}
function scatter(g, pts, x, y, col, name) {
  pts.forEach(p => {
    const dot = make('circle', g, {cx: x(p[0]), cy: y(p[1]), r: 2.05, fill: col});
    
  });
}
function drawScatterFacet(parent, o) {
  const g = facetFrame(parent, o);
  const x = linear(o.xTicks[0], o.xTicks[o.xTicks.length-1], o.xPx[0], o.xPx[1]);
  const y = linear(o.yTicks[0], o.yTicks[o.yTicks.length-1], o.yPx[0], o.yPx[1]);
  o.dense.forEach(d => areaBand(g, d, x, y, YELLOW));
  if (o.denseNo) areaBand(g, o.denseNo, x, y, PURPLE);
  scatter(g, o.yes, x, y, YELLOW, 'point-group-yes');
  scatter(g, o.no, x, y, PURPLE, 'point-group-no');
  baseline(g, o, y);
  const curve = make('path', g, {d: smoothPath(o.curve.map(p => [x(p[0]), y(p[1])])), fill: 'none', stroke: '#ff0000', 'stroke-width': 1.9, 'stroke-linejoin': 'round', 'stroke-linecap': 'round'});
  
  o.xTicks.forEach(v => {
    tickMark(g, x(v), o.bottom, x(v), o.bottom+2.5);
    label(g, x(v), o.bottom+9.5, String(v), 't75', 'middle', 'x-tick-label');
  });
  yAxis(g, o, y, o.yTicks, o.yDec);
}
function drawGroupLegend(parent, titleX, dotNoX, noX, dotYesX, yesX, cy, r, opacity) {
  label(parent, titleX, cy+3, 'Group', 'legt', 'start', 'legend-title');
  const d1 = make('circle', parent, {cx: dotNoX, cy: cy, r: r, fill: PURPLE, 'fill-opacity': opacity});
  
  label(parent, noX, cy+2.6, legendGroups[0], 'leg', 'start', 'legend-entry-no');
  const d2 = make('circle', parent, {cx: dotYesX, cy: cy, r: r, fill: YELLOW, 'fill-opacity': opacity});
  
  label(parent, yesX, cy+2.6, legendGroups[1], 'leg', 'start', 'legend-entry-yes');
}

/* ---------- Panel C ---------- */
(function () {
  const g = document.getElementById('panelC');
  const rowA = {stripTop: 482, top: 495.7, bottom: 677.5};
  const rowB = {stripTop: 693, top: 706, bottom: 888};
  const colA = {left: 96.7, right: 286.7};
  const colB = {left: 313.3, right: 504};
  const colC = {left: 527.5, right: 717.5};
  drawScatterFacet(g, {...rowA, ...colA, title: 'CKMB_first', xTicks: ckmbXTicks, yTicks: ckmbYTicks, xPx: [104.7,281.7], yPx: [645,497], yDec: 1, dense: [ckmbDense], yes: ckmbYesPts, no: ckmbNoPts, curve: ckmbCurve});
  drawScatterFacet(g, {...rowA, ...colB, title: 'Creatinine_first', xTicks: creatXTicks, yTicks: creatYTicks, xPx: [321.3,499.3], yPx: [674,537.3], yDec: 2, dense: [creatDense, creatDenseLow], yes: creatYesPts, no: creatNoPts, curve: creatCurve});
  drawScatterFacet(g, {...rowA, ...colC, title: 'ALT_first', xTicks: altXTicks, yTicks: altYTicks, xPx: [536,674.5], yPx: [655.3,496], yDec: 1, dense: [altDense], yes: altYesPts, no: altNoPts, curve: altCurve});
  drawScatterFacet(g, {...rowB, ...colA, title: 'Lactate_first', xTicks: lactXTicks, yTicks: lactYTicks, xPx: [102,255.7], yPx: [869.7,734], yDec: 2, dense: [lactDense, lactDenseHigh], yes: lactYesPts, no: lactNoPts, curve: lactCurve});
  drawScatterFacet(g, {...rowB, ...colB, title: 'BUN_first', xTicks: bunXTicks, yTicks: bunYTicks, xPx: [319.3,462.7], yPx: [846,748], yDec: 3, dense: [bunDense, bunDenseHigh], denseNo: bunDenseNo, yes: bunYesPts, no: bunNoPts, curve: bunCurve});
  drawScatterFacet(g, {...rowB, ...colC, title: 'Temperature_first', xTicks: tempXTicks, yTicks: tempYTicks, xPx: [575.3,682.3], yPx: [862.7,729], yDec: 2, dense: [tempDense, tempDenseLow, tempDenseZero], yes: tempYesPts, no: tempNoPts, curve: tempCurve});
  label(g, 74, 685, 'SHAP value', 'ytitle', 'middle', 'y-axis-title', -90);
  drawGroupLegend(g, 362, 395.7, 406, 427, 439, 928, 1.85, 1);
})();

/* ---------- Panel D ---------- */
(function () {
  const g = document.getElementById('panelD');
  const top = {stripTop: 482.3, top: 495.7, bottom: 882.3};
  const left = {...top, left: 886, right: 1181.7, title: 'Vasopressor'};
  const right = {...top, left: 1208.3, right: 1503, title: 'Liver_Disease'};

  const gL = facetFrame(g, left);
  const yL = linear(-0.01, 0.01, 879, 524.3);
  const catL = [966.3, 1100.7];
  boxCategories.forEach((c, i) => {
    const grid = make('line', gL, {x1: catL[i], y1: left.top, x2: catL[i], y2: left.bottom, stroke: '#ececec', 'stroke-width': 1});
    
  });
  baseline(gL, left, yL);
  boxCategories.forEach((c, i) => {
    const box = make('rect', gL, {x: catL[i]-50.5, y: yL(vasoQ3[i]), width: 101, height: yL(vasoQ1[i])-yL(vasoQ3[i]), fill: '#90ee90', stroke: '#444', 'stroke-width': 1});
    
    const whisk = make('line', gL, {x1: catL[i], y1: yL(vasoMax[i]), x2: catL[i], y2: yL(vasoMin[i]), stroke: '#222', 'stroke-width': 1});
    
    const med = make('line', gL, {x1: catL[i]-50.5, y1: yL(vasoMedian[i]), x2: catL[i]+50.5, y2: yL(vasoMedian[i]), stroke: '#222', 'stroke-width': 1.5});
    
    const dense = make('line', gL, {x1: catL[i], y1: yL(vasoDenseYesHigh[i]), x2: catL[i], y2: yL(vasoDenseYesLow[i]), stroke: '#ffd800', 'stroke-width': 3.6});
    
    tickMark(gL, catL[i], left.bottom, catL[i], left.bottom+2.5);
    label(gL, catL[i]+1, left.bottom+6, c, 't75', 'end', 'x-tick-label', -40);
  });
  vasoYesGroupNo.forEach(v => {
    const dot = make('circle', gL, {cx: catL[0], cy: yL(v), r: 1.7, fill: PURPLE, 'fill-opacity': 0.55});
    
  });
  vasoYesGroupMixed.forEach(v => {
    const dot = make('circle', gL, {cx: catL[0], cy: yL(v), r: 1.8, fill: '#b09a20'});
    
  });
  vasoNoGroupNo.forEach(v => {
    const dot = make('circle', gL, {cx: catL[1], cy: yL(v), r: 1.7, fill: PURPLE, 'fill-opacity': 0.7});
    
  });
  yAxis(gL, left, yL, vasoYTicks, 3);

  const gR = facetFrame(g, right);
  const yR = linear(-0.05, 0.05, 882.3, 495.7);
  const catR = [1288.5, 1422.5];
  boxCategories.forEach((c, i) => {
    const grid = make('line', gR, {x1: catR[i], y1: right.top, x2: catR[i], y2: right.bottom, stroke: '#ececec', 'stroke-width': 1});
    
  });
  const faint = make('line', gR, {x1: right.left, y1: yR(0), x2: right.right, y2: yR(0), stroke: '#bbb', 'stroke-width': 1.2});
  
  boxCategories.forEach((c, i) => {
    const box = make('rect', gR, {x: catR[i]-50.5, y: yR(liverQ3[i])-0.7, width: 101, height: yR(liverQ1[i])-yR(liverQ3[i])+1.4, fill: '#222'});
    
    const dot = make('circle', gR, {cx: catR[i], cy: yR(0), r: 1.4, fill: '#c9b820'});
    
    tickMark(gR, catR[i], right.bottom, catR[i], right.bottom+2.5);
    label(gR, catR[i]+1, right.bottom+6, c, 't75', 'end', 'x-tick-label', -40);
  });
  yAxis(gR, right, yR, liverYTicks, 3);

  label(g, 860, 689, 'SHAP value', 'ytitle', 'middle', 'y-axis-title', -90);
  drawGroupLegend(g, 1150, 1183, 1194, 1215, 1226, 928, 1.5, 0.6);
})();
</script>
</body>
</html>
